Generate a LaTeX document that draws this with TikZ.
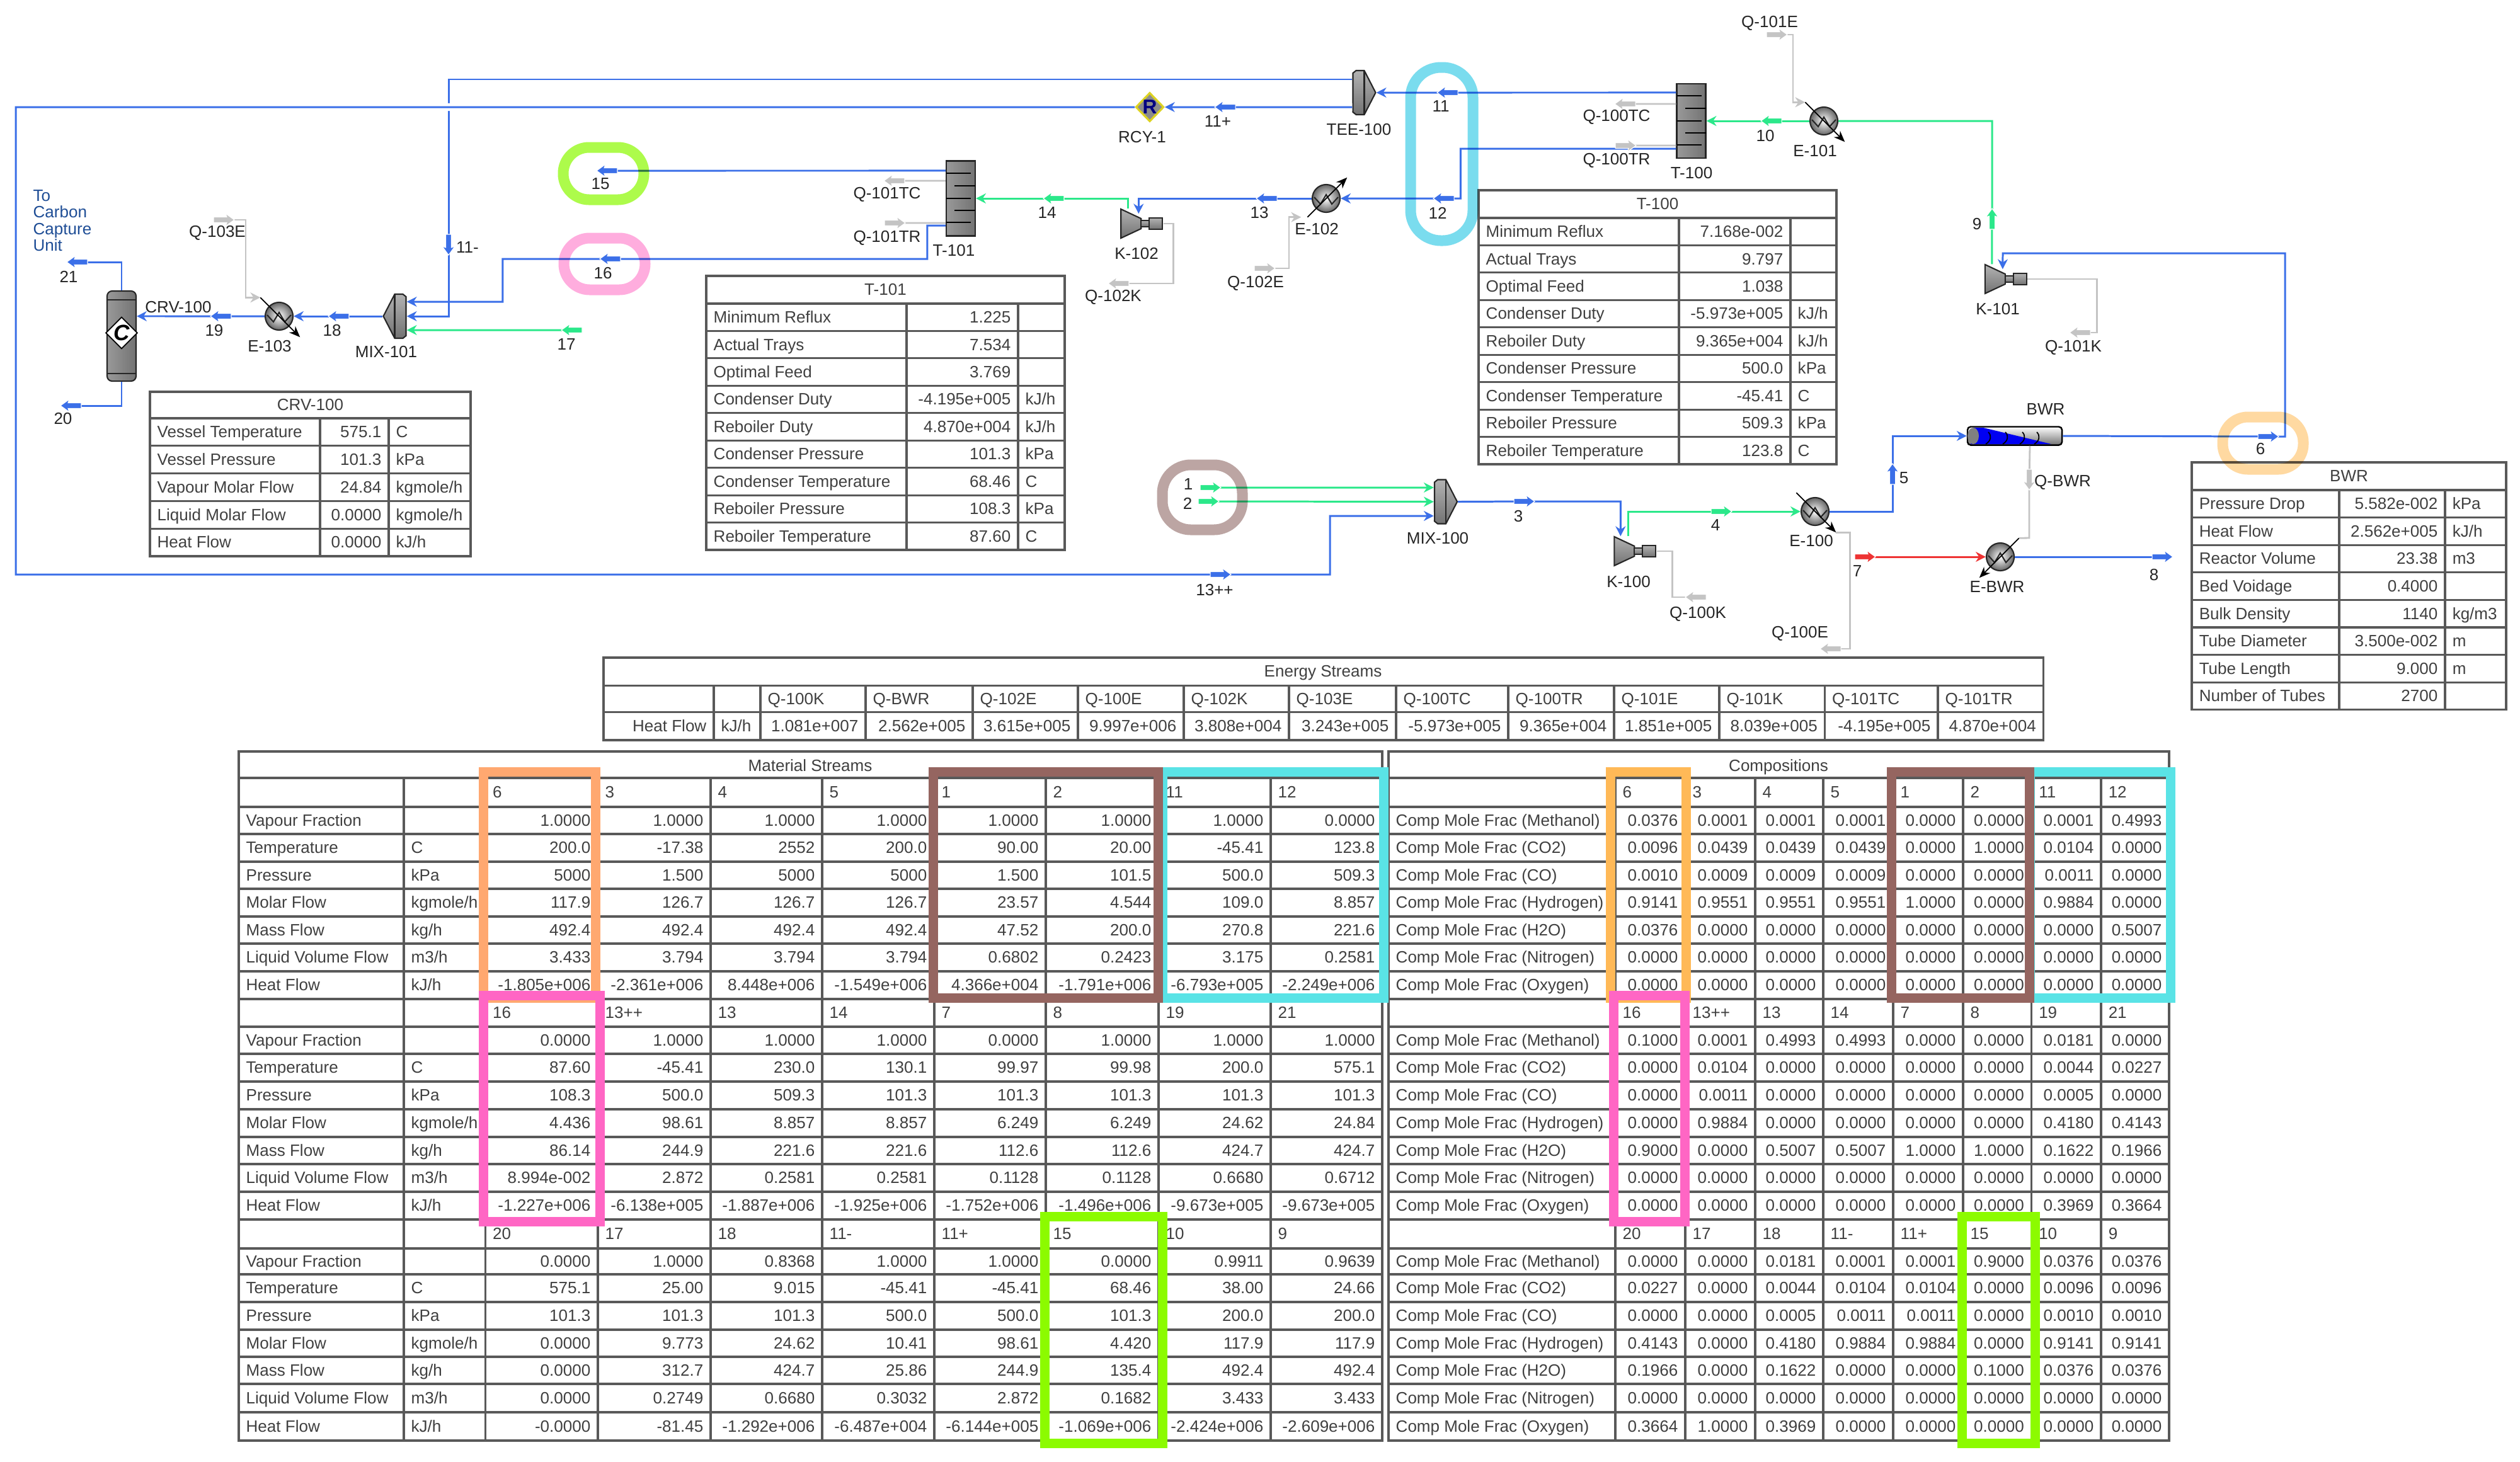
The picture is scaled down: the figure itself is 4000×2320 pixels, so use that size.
\documentclass[tikz,border=0pt]{standalone}
\usepackage{fontspec}
\setmainfont{Liberation Sans}
\usetikzlibrary{calc}
\usetikzlibrary{arrows.meta}
\usetikzlibrary{positioning}
\usetikzlibrary{shapes.geometric}

\definecolor{streamblue}{HTML}{3B6FE8}
\definecolor{streamgreen}{HTML}{2BE88A}
\definecolor{streamgray}{HTML}{C4C4C4}
\definecolor{streamred}{HTML}{EE3333}
\definecolor{notecolor}{HTML}{1F4E96}
\definecolor{hlorange}{HTML}{FFA870}
\definecolor{hlamber}{HTML}{FFB957}
\definecolor{hlbrown}{HTML}{956560}
\definecolor{hlcyan}{HTML}{5AE3E6}
\definecolor{hlpink}{HTML}{FF66C4}
\definecolor{hllime}{HTML}{8CFB00}
\definecolor{ringlime}{HTML}{ADFB4B}
\definecolor{ringpink}{HTML}{FFADDE}
\definecolor{ringcyan}{HTML}{7ADCEE}
\definecolor{ringbrown}{HTML}{BCA5A3}
\definecolor{ringorange}{HTML}{FFD9A1}

\newcommand{\tablefont}{\fontsize{7.4}{8.9}\selectfont}
\newcommand{\ukj}{kJ/h}
\newcommand{\ukmol}{kgmole/h}
\newcommand{\ukgh}{kg/h}
\newcommand{\umh}{m3/h}
\newcommand{\ukgm}{kg/m3}

\tikzset{gridline/.style={draw=black!65, line width=.9pt}}
\tikzset{cellbase/.style={inner sep=0pt, text=black!75, text height=5.3pt, text depth=1.4pt, yshift=-.02cm}}
\tikzset{numcell/.style={cellbase, anchor=east}}
\tikzset{headcell/.style={cellbase, anchor=west}}
\tikzset{titlecell/.style={cellbase}}
\tikzset{lbl/.style={inner sep=0pt, text=black!85}}
\tikzset{stream/.style={draw=streamblue, line width=.85pt}}
\tikzset{hotstream/.style={draw=streamred, line width=.85pt}}
\tikzset{feedstream/.style={draw=streamgreen, line width=.85pt}}
\tikzset{energy/.style={draw=streamgray, line width=.8pt}}
\tikzset{unitbox/.style={inner sep=0pt, draw=none}}
\tikzset{unitfill/.style={draw=black!85, line width=.6pt, top color=black!30, middle color=white, bottom color=black!55}}
\tikzset{sidefill/.style={draw=black!85, line width=.6pt, left color=black!40, middle color=white, right color=black!55}}
\tikzset{exch/.style={circle, inner sep=0pt, minimum size=.44cm, draw=black!85, line width=.6pt, inner color=white, outer color=black!60}}
\tikzset{hlbox/.style={line width=.15cm}}
\tikzset{hlring/.style={line width=.17cm, blend mode=multiply}}

% column: name, x, y, height
\newcommand{\tcolumn}[4]{
\node[sidefill, rectangle, inner sep=0pt, minimum width=.46cm, minimum height=#4cm] (#1) at (#2,#3) {};
\begin{scope}[shift={(#1.center)}]
\foreach \tickf/\tickl/\tickr in {-.34/-23/16,-.17/-10/23,0/-23/16,.16/-10/23,.32/-23/16}
  \draw[black, line width=.6pt] (\tickl,\tickf*#4*100) -- (\tickr,\tickf*#4*100);
\end{scope}
}
% mixer or tee: name, x, y, xscale
\newcommand{\mixer}[4]{
\node[unitbox, minimum width=.37cm, minimum height=.70cm] (#1) at (#2,#3) {};
\begin{scope}[shift={(#1.center)}, xscale=#4]
\shade[unitfill] (-18,0) -- (0,-35) -- (13,-35) -- (18,-31) -- (18,31) -- (13,35) -- (0,35) -- cycle;
\draw[black!85, line width=.6pt] (0,-35) -- (0,35);
\end{scope}
}
% compressor: name, x, y
\newcommand{\compressor}[3]{
\node[unitbox, minimum width=.66cm, minimum height=.46cm] (#1) at (#2,#3) {};
\begin{scope}[shift={(#1.west)}]
\shade[unitfill] (0,-23) -- (32,-8) -- (32,8) -- (0,23) -- cycle;
\shade[unitfill] (32,-5) rectangle (45,5);
\shade[unitfill] (45,-9) rectangle (66,9);
\end{scope}
}
% exchanger: name, x, y, direction of its arrow
\newcommand{\exchanger}[4]{
\node[exch] (#1) at (#2,#3) {};
\coordinate (#1tail) at ([shift={(#4+180:.42cm)}]#1.center);
\coordinate (#1head) at ([shift={(#4:.47cm)}]#1.center);
\begin{scope}[shift={(#1.center)}]
\draw[black!85, line width=.6pt] (-19,-2) -- (-9,9) -- (0,-6) -- (9,9) -- (19,-2);
\end{scope}
\draw[black, line width=.5pt, -{Stealth[length=5pt,width=4pt]}] (#1tail) -- (#1head);
}
% small table: name, x lines, top, title bottom, row height, rows, title, contents
\newcommand{\infotable}[8]{
\pgfmathsetmacro\xa{#2[0]}
\pgfmathsetmacro\xb{#2[1]}
\pgfmathsetmacro\xc{#2[2]}
\pgfmathsetmacro\xd{#2[3]}
\pgfmathsetmacro\ybot{#4+#6*#5}
\draw[gridline] (\xa,#3) rectangle (\xd,\ybot);
\draw[gridline] (\xb,#4) -- (\xb,\ybot) (\xc,#4) -- (\xc,\ybot);
\node[titlecell] (#1title) at ({(\xa+\xd)/2},{(#3+#4)/2}) {#7};
\foreach \lab/\val/\un [count=\rowno from 0] in {#8} {
  \pgfmathsetmacro\yline{#4+\rowno*#5}
  \pgfmathsetmacro\yy{#4+(\rowno+.5)*#5}
  \draw[gridline] (\xa,\yline) -- (\xd,\yline);
  \node[headcell] (#1lab\rowno) at (\xa+11,\yy) {\lab};
  \node[numcell] (#1val\rowno) at (\xc-11,\yy) {\val};
  \node[headcell] (#1un\rowno) at (\xc+11,\yy) {\un};
}
}
% one block of stream table: prefix, x lines, row centres, header y, header names, rows
\newcommand{\datablock}[6]{
\foreach \headv [count=\colno from 0] in {#5} {
  \pgfmathsetmacro\xl{#2[\colno]}
  \node[headcell] (#1h\colno) at (\xl+11,#4) {\headv};
}
\foreach \rowvals [count=\rowno from 0] in {#6} {
  \pgfmathsetmacro\yy{#3[\rowno]}
  \foreach \cellv [count=\colno from 1] in \rowvals {
    \pgfmathsetmacro\xr{#2[\colno]}
    \node[numcell] (#1r\rowno c\colno) at (\xr-11,\yy) {\cellv};
  }
}
}
% row names of a block: prefix, row centres, x, names
\newcommand{\rownames}[4]{
\foreach \lab/\un [count=\rowno from 0] in #4 {
  \pgfmathsetmacro\yy{#2[\rowno]}
  \node[headcell] (#1n\rowno) at (#3+11,\yy) {\lab};
  \node[headcell] (#1u\rowno) at (#3+273,\yy) {\un};
}
}

\def\rowsa{{1302.5,1346,1390,1433,1477,1520,1564}}
\def\rowsb{{1651.5,1695,1739,1783,1826.5,1870,1914}}
\def\rowsc{{2002.5,2045,2089,2132.5,2175.5,2219.5,2264.5}}
\def\rowsen{{1153,1153}}
\def\matcols{{770.5,949,1128,1305,1483,1660,1839,2017,2194}}
\def\compcols{{2564,2675,2786,2894,3005,3116,3224.5,3335,3443}}
\def\encols{{1207,1374,1544,1711,1879,2046,2216,2394,2562,2729,2896.5,3076,3243.5}}
\def\tablerows{1235,1281,1324,1368,1411,1455,1498,1542,1586,1630,1673,1717,1761,1805,1848,1892,1936,1982,2023,2067,2111,2154,2197,2242}
\def\matnames{Vapour Fraction/{},Temperature/C,Pressure/kPa,Molar Flow/\ukmol,Mass Flow/\ukgh,Liquid Volume Flow/\umh,Heat Flow/\ukj}
\def\compnames{Comp Mole Frac (Methanol)/{},Comp Mole Frac (CO2)/{},Comp Mole Frac (CO)/{},Comp Mole Frac (Hydrogen)/{},Comp Mole Frac (H2O)/{},Comp Mole Frac (Nitrogen)/{},Comp Mole Frac (Oxygen)/{}}
% name, colour, rotation, x, y
\def\flowlist{15/streamblue/180/964/271,16/streamblue/180/969/411,17/streamgreen/180/908/524,18/streamblue/180/538/502,19/streamblue/180/351/502,21/streamblue/180/123/416,20/streamblue/180/113/644,11m/streamblue/-90/712/388,11p/streamblue/180/1945/170,11/streamblue/180/2298/147,12/streamblue/180/2292/315,13/streamblue/180/2011/315,14/streamgreen/180/1673/315,1/streamgreen/0/1921/774,2/streamgreen/0/1918/796,3/streamblue/0/2419/796,13pp/streamblue/0/1937/912,4/streamgreen/0/2732/812,5/streamblue/90/3004/753,6/streamblue/0/3600/693,7/streamred/0/2960/884,8/streamblue/0/3432/884,9/streamgreen/90/3162/348,10/streamgreen/180/2812/192,Q103E/streamgray/0/355/349,Q101TC/streamgray/180/1420/287,Q101TR/streamgray/0/1420/354,Q102K/streamgray/180/1776/450,Q102E/streamgray/0/2007/426,Q100TC/streamgray/180/2580/165,Q100TR/streamgray/0/2580/231,Q101E/streamgray/0/2820/55,Q101K/streamgray/180/3302/528,QBWR/streamgray/-90/3221/761,Q100K/streamgray/180/2692/948,Q100E/streamgray/180/2906/1030}

\begin{document}
\begin{tikzpicture}[x=.01cm, y=-.01cm, every node/.append style={font=\tablefont}, >={Stealth[length=4.5pt,width=4.5pt]}]
\useasboundingbox (0,0) rectangle (4000,2320);
\fill[white] (0,0) rectangle (4000,2320);

% tables around the flowsheet
\infotable{crvtab}{{238,508,617,747}}{622}{664}{43.8}{5}{CRV-100}{Vessel Temperature/575.1/C,Vessel Pressure/101.3/kPa,Vapour Molar Flow/24.84/\ukmol,Liquid Molar Flow/0.0000/\ukmol,Heat Flow/0.0000/\ukj}
\infotable{ttab}{{1121,1439,1616,1690}}{438}{482}{43.44}{9}{T-101}{Minimum Reflux/1.225/{},Actual Trays/7.534/{},Optimal Feed/3.769/{},Condenser Duty/-4.195e+005/\ukj,Reboiler Duty/4.870e+004/\ukj,Condenser Pressure/101.3/kPa,Condenser Temperature/68.46/C,Reboiler Pressure/108.3/kPa,Reboiler Temperature/87.60/C}
\infotable{utab}{{2347,2665,2842,2915}}{302}{346}{43.44}{9}{T-100}{Minimum Reflux/7.168e-002/{},Actual Trays/9.797/{},Optimal Feed/1.038/{},Condenser Duty/-5.973e+005/\ukj,Reboiler Duty/9.365e+004/\ukj,Condenser Pressure/500.0/kPa,Condenser Temperature/-45.41/C,Reboiler Pressure/509.3/kPa,Reboiler Temperature/123.8/C}
\infotable{bwrtab}{{3479,3713,3881,3978}}{734}{778}{43.6}{8}{BWR}{Pressure Drop/5.582e-002/kPa,Heat Flow/2.562e+005/\ukj,Reactor Volume/23.38/m3,Bed Voidage/0.4000/{},Bulk Density/1140/\ukgm,Tube Diameter/3.500e-002/m,Tube Length/9.000/m,Number of Tubes/2700/{}}

% energy streams
\draw[gridline] (958,1044) rectangle (3243.5,1175);
\draw[gridline] (958,1088.5) -- (3243.5,1088.5) (958,1130.6) -- (3243.5,1130.6);
\foreach \xx in {1133,1207,1374,1544,1711,1879,2046,2216,2394,2562,2729,2896.5,3076}
  \draw[gridline] (\xx,1088.5) -- (\xx,1175);
\node[titlecell] (entitle) at (2100,1066) {Energy Streams};
\node[numcell] (enname) at (1122,1153) {Heat Flow};
\node[headcell] (enunit) at (1144,1153) {\ukj};
\datablock{en}{\encols}{\rowsen}{1109.5}{Q-100K,Q-BWR,Q-102E,Q-100E,Q-102K,Q-103E,Q-100TC,Q-100TR,Q-101E,Q-101K,Q-101TC,Q-101TR}{{1.081e+007,2.562e+005,3.615e+005,9.997e+006,3.808e+004,3.243e+005,-5.973e+005,9.365e+004,1.851e+005,8.039e+005,-4.195e+005,4.870e+004}}

% material streams
\draw[gridline] (379,1193) rectangle (2194,2287);
\foreach \yy in \tablerows
  \draw[gridline] (379,\yy) -- (2194,\yy);
\foreach \xx in {641,770.5,949,1128,1305,1483,1660,1839,2017}
  \draw[gridline] (\xx,1235) -- (\xx,2287);
\node[titlecell] (mattitle) at (1286,1216) {Material Streams};
\rownames{ma}{\rowsa}{379}{\matnames}
\rownames{mb}{\rowsb}{379}{\matnames}
\rownames{mc}{\rowsc}{379}{\matnames}
\datablock{ma}{\matcols}{\rowsa}{1258}{6,3,4,5,1,2,11,12}{
{1.0000,1.0000,1.0000,1.0000,1.0000,1.0000,1.0000,0.0000},
{200.0,-17.38,2552,200.0,90.00,20.00,-45.41,123.8},
{5000,1.500,5000,5000,1.500,101.5,500.0,509.3},
{117.9,126.7,126.7,126.7,23.57,4.544,109.0,8.857},
{492.4,492.4,492.4,492.4,47.52,200.0,270.8,221.6},
{3.433,3.794,3.794,3.794,0.6802,0.2423,3.175,0.2581},
{-1.805e+006,-2.361e+006,8.448e+006,-1.549e+006,4.366e+004,-1.791e+006,-6.793e+005,-2.249e+006}}
\datablock{mb}{\matcols}{\rowsb}{1608}{16,13++,13,14,7,8,19,21}{
{0.0000,1.0000,1.0000,1.0000,0.0000,1.0000,1.0000,1.0000},
{87.60,-45.41,230.0,130.1,99.97,99.98,200.0,575.1},
{108.3,500.0,509.3,101.3,101.3,101.3,101.3,101.3},
{4.436,98.61,8.857,8.857,6.249,6.249,24.62,24.84},
{86.14,244.9,221.6,221.6,112.6,112.6,424.7,424.7},
{8.994e-002,2.872,0.2581,0.2581,0.1128,0.1128,0.6680,0.6712},
{-1.227e+006,-6.138e+005,-1.887e+006,-1.925e+006,-1.752e+006,-1.496e+006,-9.673e+005,-9.673e+005}}
\datablock{mc}{\matcols}{\rowsc}{1959}{20,17,18,11-,11+,15,10,9}{
{0.0000,1.0000,0.8368,1.0000,1.0000,0.0000,0.9911,0.9639},
{575.1,25.00,9.015,-45.41,-45.41,68.46,38.00,24.66},
{101.3,101.3,101.3,500.0,500.0,101.3,200.0,200.0},
{0.0000,9.773,24.62,10.41,98.61,4.420,117.9,117.9},
{0.0000,312.7,424.7,25.86,244.9,135.4,492.4,492.4},
{0.0000,0.2749,0.6680,0.3032,2.872,0.1682,3.433,3.433},
{-0.0000,-81.45,-1.292e+006,-6.487e+004,-6.144e+005,-1.069e+006,-2.424e+006,-2.609e+006}}

% compositions
\draw[gridline] (2204,1193) rectangle (3443,2287);
\foreach \yy in \tablerows
  \draw[gridline] (2204,\yy) -- (3443,\yy);
\foreach \xx in {2564,2675,2786,2894,3005,3116,3224.5,3335}
  \draw[gridline] (\xx,1235) -- (\xx,2287);
\node[titlecell] (comptitle) at (2823,1216) {Compositions};
\rownames{ca}{\rowsa}{2204}{\compnames}
\rownames{cb}{\rowsb}{2204}{\compnames}
\rownames{cc}{\rowsc}{2204}{\compnames}
\datablock{ca}{\compcols}{\rowsa}{1258}{6,3,4,5,1,2,11,12}{
{0.0376,0.0001,0.0001,0.0001,0.0000,0.0000,0.0001,0.4993},
{0.0096,0.0439,0.0439,0.0439,0.0000,1.0000,0.0104,0.0000},
{0.0010,0.0009,0.0009,0.0009,0.0000,0.0000,0.0011,0.0000},
{0.9141,0.9551,0.9551,0.9551,1.0000,0.0000,0.9884,0.0000},
{0.0376,0.0000,0.0000,0.0000,0.0000,0.0000,0.0000,0.5007},
{0.0000,0.0000,0.0000,0.0000,0.0000,0.0000,0.0000,0.0000},
{0.0000,0.0000,0.0000,0.0000,0.0000,0.0000,0.0000,0.0000}}
\datablock{cb}{\compcols}{\rowsb}{1608}{16,13++,13,14,7,8,19,21}{
{0.1000,0.0001,0.4993,0.4993,0.0000,0.0000,0.0181,0.0000},
{0.0000,0.0104,0.0000,0.0000,0.0000,0.0000,0.0044,0.0227},
{0.0000,0.0011,0.0000,0.0000,0.0000,0.0000,0.0005,0.0000},
{0.0000,0.9884,0.0000,0.0000,0.0000,0.0000,0.4180,0.4143},
{0.9000,0.0000,0.5007,0.5007,1.0000,1.0000,0.1622,0.1966},
{0.0000,0.0000,0.0000,0.0000,0.0000,0.0000,0.0000,0.0000},
{0.0000,0.0000,0.0000,0.0000,0.0000,0.0000,0.3969,0.3664}}
\datablock{cc}{\compcols}{\rowsc}{1959}{20,17,18,11-,11+,15,10,9}{
{0.0000,0.0000,0.0181,0.0001,0.0001,0.9000,0.0376,0.0376},
{0.0227,0.0000,0.0044,0.0104,0.0104,0.0000,0.0096,0.0096},
{0.0000,0.0000,0.0005,0.0011,0.0011,0.0000,0.0010,0.0010},
{0.4143,0.0000,0.4180,0.9884,0.9884,0.0000,0.9141,0.9141},
{0.1966,0.0000,0.1622,0.0000,0.0000,0.1000,0.0376,0.0376},
{0.0000,0.0000,0.0000,0.0000,0.0000,0.0000,0.0000,0.0000},
{0.3664,1.0000,0.3969,0.0000,0.0000,0.0000,0.0000,0.0000}}

% rectangles over the tables
\draw[hlbox,hlcyan] (1845,1225) rectangle (2196.5,1584.5);
\draw[hlbox,hlorange] (767.5,1225) rectangle (945.5,1584.5);
\draw[hlbox,hlbrown] (1481.5,1225) rectangle (1838.5,1584.5);
\draw[hlbox,hlpink] (767.5,1580) rectangle (952.5,1939.5);
\draw[hlbox,hllime] (1658.5,1931.5) rectangle (1845,2291.5);
\draw[hlbox,hlcyan] (3222,1225) rectangle (3445.5,1584.5);
\draw[hlbox,hlamber] (2556.5,1225) rectangle (2676.5,1584.5);
\draw[hlbox,hlbrown] (3002.5,1225) rectangle (3221.5,1584.5);
\draw[hlbox,hlpink] (2561.5,1580) rectangle (2674.5,1939.5);
\draw[hlbox,hllime] (3114.5,1931.5) rectangle (3230.5,2291.5);

% units
\node[sidefill, rectangle, rounded corners=.08cm, inner sep=0pt, minimum width=.46cm, minimum height=1.43cm] (crv) at (193,533.5) {};
\draw[black!85, line width=.6pt] ([yshift=-.15cm]crv.north west) -- ([yshift=-.15cm]crv.north east);
\draw[black!85, line width=.6pt] ([yshift=.13cm]crv.south west) -- ([yshift=.13cm]crv.south east);
\node[diamond, draw=black, fill=white, line width=.5pt, inner sep=0pt, minimum width=.48cm, minimum height=.50cm, font=\fontsize{10}{10}\bfseries\itshape\selectfont] (crvC) at ([yshift=.05cm]crv.center) {C};
\mixer{mix101}{626.5}{502}{1}
\mixer{tee100}{2165.5}{147}{-1}
\mixer{mix100}{2295}{796.5}{-1}
\tcolumn{T101}{1525}{315}{1.19}
\tcolumn{T100}{2684.5}{192}{1.18}
\compressor{K102}{1813}{355}
\compressor{K100}{2596}{875}
\compressor{K101}{3184.5}{443}
\exchanger{E103}{443}{502}{-45}
\exchanger{E102}{2105}{315}{45}
\exchanger{E101}{2895}{192}{-45}
\exchanger{E100}{2881}{812}{-45}
\exchanger{EBWR}{3175}{884}{-135}
\node[diamond, draw=yellow!85!black, fill=black!45, line width=.9pt, inner sep=0pt, minimum width=.44cm, minimum height=.46cm, text=blue!50!black, font=\fontsize{9}{9}\bfseries\selectfont] (rcy) at (1825,170) {R};
\node[rectangle, rounded corners=.05cm, draw=black, line width=.7pt, inner sep=0pt, minimum width=1.5cm, minimum height=.29cm, top color=white, bottom color=black!55] (BWR) at (3198,692) {};
\begin{scope}[shift={(BWR.center)}]
\fill[blue!95!black] (-65,-13) -- (-50,-13) -- (58,13) -- (-70,13) -- cycle;
\foreach \xx in {-42,-15,12,35}
  \draw[black, line width=.5pt] (\xx,-6) .. controls (\xx+6,0) and (\xx+4,8) .. (\xx-4,13);
\fill[black!50] (-66,0) ellipse (9 and 13);
\end{scope}

% stream end points
\foreach \nm/\col/\rot/\xx/\yy in \flowlist
  \coordinate (a\nm) at (\xx,\yy);

% streams
\draw[stream] ([yshift=.44cm]T101.west) -- (a15);
\draw[stream,->] ([yshift=-.43cm]T101.west) -- ++(-29,0) -- ++(0,53) -- ++(-674,0) -- ++(0,68) -- ([yshift=.23cm]mix101.east);
\draw[stream,->] ([yshift=.21cm]tee100.west) -| (a11m) |- (mix101.east);
\draw[stream,->,preaction={draw=white,line width=3.5pt,-}] ([yshift=-.23cm]tee100.west) -- (a11p) -- (rcy.east);
\draw[stream,->,preaction={draw=white,line width=3.5pt,-}] (rcy.west) -- ++(-1776,0) -- ++(0,742) -- ++(2086,0) -- ++(0,-93) -- ([yshift=-.225cm]mix100.west);
\draw[feedstream,->] (a1) -- ([yshift=.225cm]mix100.west);
\draw[feedstream,->] (a2) -- (mix100.west);
\draw[stream,->] (mix100.east) -- (a3) -| ([xshift=.10cm]K100.north west);
\draw[feedstream,->] ([xshift=.22cm]K100.north west) |- (a4) -- (E100.west);
\draw[stream,->] (E100.east) -| (a5) |- (BWR.west);
\draw[stream,->] (BWR.east) -- (a6) -- ++(27,0) -- ++(0,-291) -- ++(-448,0) -- ([xshift=.28cm,yshift=-.08cm]K101.north west);
\draw[feedstream] ([xshift=.11cm]K101.north west) -- (a9) |- (E101.east);
\draw[feedstream,->] (E101.west) -- (a10) -- (T100.east);
\draw[stream,->] ([yshift=.45cm]T100.west) -- (a11) -- (tee100.east);
\draw[stream,->] ([yshift=-.44cm]T100.west) -- ++(-342,0) -- ++(0,79) -- (a12) -- (E102.east);
\draw[stream,->] (E102.west) -- (a13) -| ([xshift=.28cm,yshift=-.08cm]K102.north west);
\draw[feedstream,->] ([xshift=.11cm]K102.north west) |- (a14) -- (T101.east);
\draw[feedstream,->] (a17) -- ([yshift=-.22cm]mix101.east);
\draw[stream,->] (mix101.west) -- (a18) -- (E103.east);
\draw[stream,->] (E103.west) -- (a19) -- ([yshift=.315cm]crv.east);
\draw[stream] (crv.north) |- (a21);
\draw[stream] (crv.south) |- (a20);
\draw[hotstream,->] (a7) -- (EBWR.west);
\draw[stream] (EBWR.east) -- (a8);

% energy
\draw[energy,->] (aQ103E) -- ++(35,0) |- (E103tail);
\draw[energy] ([yshift=.28cm]T101.west) -- (aQ101TC);
\draw[energy] (aQ101TR) -- ([yshift=-.39cm]T101.west);
\draw[energy] (K102.east) -- ++(16,0) |- (aQ102K);
\draw[energy,->,shorten >=.1cm] (aQ102E) -- ++(39,0) |- (E102tail);
\draw[energy] ([yshift=.27cm]T100.west) -- (aQ100TC);
\draw[energy] (aQ100TR) -- ([yshift=-.39cm]T100.west);
\draw[energy,->] (aQ101E) -- ++(26,0) |- (E101tail);
\draw[energy] (K101.east) -- ++(110,0) |- (aQ101K);
\draw[energy] ([xshift=.24cm]BWR.south) -- (aQBWR) -- ++(0,93) -- (EBWRtail);
\draw[energy] (K100.east) -- ++(25,0) |- (aQ100K);
\draw[energy] (E100head) -- ++(22,0) |- (aQ100E);

% block arrows on the streams
\foreach \nm/\col/\rot/\xx/\yy in \flowlist
  \fill[fill=\col, draw=white, line width=.3pt, shift={(a\nm)}, rotate=\rot] (-16,-4.5) -- (5,-4.5) -- (3,-10) -- (17,0) -- (3,10) -- (5,4.5) -- (-16,4.5) -- cycle;

% labels
\foreach \tx/\xx/\yy in {21/109/439,20/100/665,19/340/525,18/527/525,17/899/547,15/953/292,16/957/434,E-103/428/550,MIX-101/613/559,CRV-100/283/488,Q-103E/345/370,11-/742/393,TEE-100/2157/206,11/2287/169,12/2282/338,11+/1933/193,RCY-1/1813/218,Q-101TC/1408/309,Q-101TR/1408/378,T-101/1514/398,14/1662/338,K-102/1804/403,13/1999/338,E-102/2090/364,Q-102E/1993/450,Q-102K/1767/472,Q-100TC/2566/186,Q-100TR/2566/255,T-100/2685/275,1/1886/769,2/1885/799,MIX-100/2282/855,3/2410/820,13++/1928/937,K-100/2585/924,Q-100K/2695/975,Q-101E/2809/37,10/2802/216,E-101/2881/240,9/3138/356,K-101/3171/491,Q-101K/3291/552,BWR/3247/650,5/3022/759,Q-BWR/3274/766,4/2723/834,E-100/2875/859,7/2948/907,8/3419/913,E-BWR/3170/932,Q-100E/2857/1006,6/3588/713}
  \node[lbl] (lbl\tx) at (\xx,\yy) {\tx};
\node[anchor=north west, inner sep=0pt, align=left, text=notecolor, font=\fontsize{7.4}{7.5}\selectfont] (tocapture) at (52,301) {To\\Carbon\\Capture\\Unit};

% rings on the flowsheet
\draw[hlring,ringlime,rounded corners=.41cm] (894,234) rectangle (1022,317);
\draw[hlring,ringpink,rounded corners=.41cm] (895,378) rectangle (1024,460);
\draw[hlring,ringcyan,rounded corners=.48cm] (2239,107) rectangle (2338,382);
\draw[hlring,ringbrown,rounded corners=.45cm] (1845,738) rectangle (1972,841);
\draw[hlring,ringorange,rounded corners=.40cm] (3528,662) rectangle (3656,745);

\end{tikzpicture}
\end{document}
